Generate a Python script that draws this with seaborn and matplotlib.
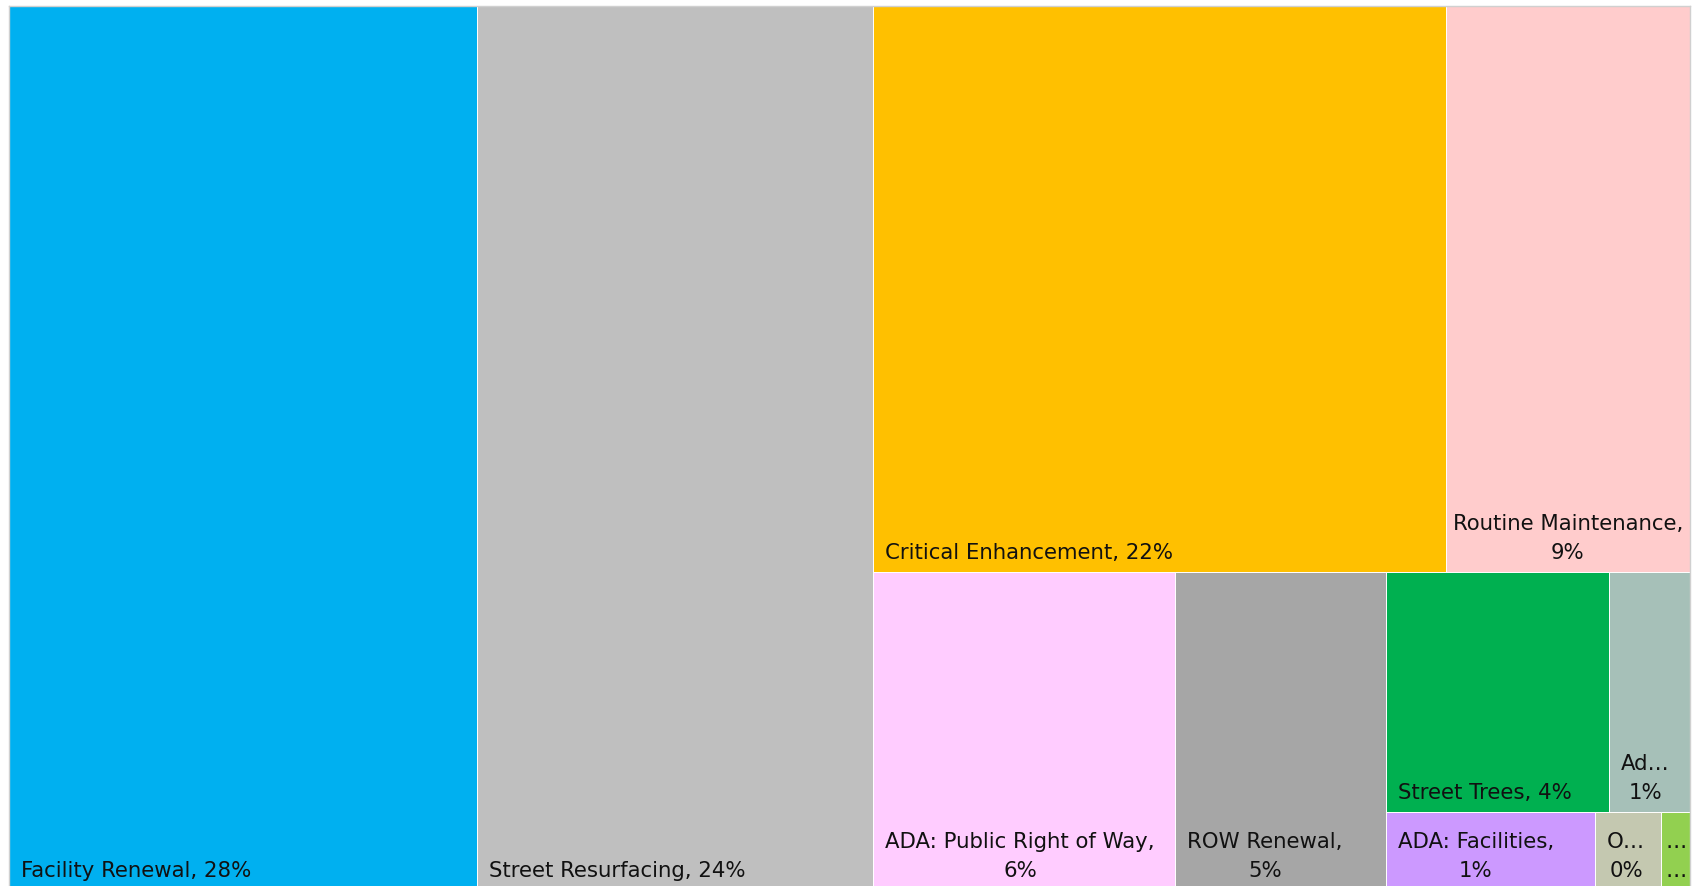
import numpy as np
import pandas as pd
import seaborn as sns
import matplotlib
matplotlib.use("Agg")
import matplotlib.pyplot as plt
from matplotlib.patches import Rectangle

# ---- data ----
categories = ["Facility Renewal", "Street Resurfacing", "Critical Enhancement",
              "Routine Maintenance", "ADA: Public Right of Way", "ROW Renewal",
              "Street Trees", "Ad…", "ADA: Facilities", "O…", "…"]
shares = [27.8, 23.6, 21.8, 9.3, 6.45, 4.5, 3.6, 1.3, 1.1, 0.35, 0.15]
value_labels = ["28%", "24%", "22%", "9%", "6%", "5%", "4%", "1%", "1%", "0%", "…"]
colors = ["#00B0F0", "#BFBFBF", "#FFC000", "#FFCCCC", "#FFCCFF", "#A6A6A6",
          "#00B050", "#A6C0B8", "#CC99FF", "#C4C8B0", "#92D050"]

sns.set_theme(style="white")
plt.rcParams["font.family"] = ["DejaVu Sans"]

df = pd.DataFrame({"category": categories, "share": shares,
                   "label": value_labels, "color": colors})


def strip_layout(values, x0, y0, w, h, max_ratio=1.2):
    """Strip treemap: strips run along the shorter side of the free space;
    items join a strip while its first cell stays roughly square."""
    total = float(sum(values))
    areas = [v * w * h / total for v in values]
    rects = []
    i = 0
    x, y = x0, y0
    while i < len(areas):
        vertical = w >= h
        L = h if vertical else w
        s = areas[i]
        j = i + 1
        while j < len(areas):
            t = (s + areas[j]) / L
            if t * t / areas[i] <= max_ratio:
                s += areas[j]
                j += 1
            else:
                break
        t = s / L
        pos = 0.0
        for k in range(i, j):
            ln = areas[k] / t
            if vertical:
                rects.append((x, y + pos, t, ln))
            else:
                rects.append((x + pos, y, ln, t))
            pos += ln
        if vertical:
            x += t
            w -= t
        else:
            y += t
            h -= t
        i = j
    return rects


fig = plt.figure(figsize=(16.92, 8.86), dpi=100)
ax = fig.add_axes([9 / 1692, -4 / 886, 1681 / 1692, 884 / 886])
bbox = ax.get_window_extent()
W, H = bbox.width, bbox.height
ax.set_xlim(0, W)
ax.set_ylim(H, 0)
ax.set_xticks([])
ax.set_yticks([])
for sp in ax.spines.values():
    sp.set_color("#d0d0d0")
    sp.set_linewidth(1.0)

rects = strip_layout(df["share"].tolist(), 0, 0, W, H)
renderer = fig.canvas.get_renderer()

for (x, y, w, h), (_, row) in zip(rects, df.iterrows()):
    ax.add_patch(Rectangle((x, y), w, h, facecolor=row["color"],
                           edgecolor="white", linewidth=0.7))
    name = row["category"]
    sep = "" if name.endswith("…") else ","
    single = f"{name}{sep} {row['label']}"
    txt = ax.text(x, y + h, single, fontsize=15.3, color="#111111",
                  ha="left", va="bottom", multialignment="center")
    tw = txt.get_window_extent(renderer).width
    if tw > w - 24:
        txt.set_text(f"{name}{sep}\n{row['label']}")
        txt.set_linespacing(1.58)
        tw = txt.get_window_extent(renderer).width
    pad = min(12.0, max(2.0, (w - tw) / 2))
    txt.set_position((x + pad, y + h - 9))

fig.savefig("out.png", dpi=100)
